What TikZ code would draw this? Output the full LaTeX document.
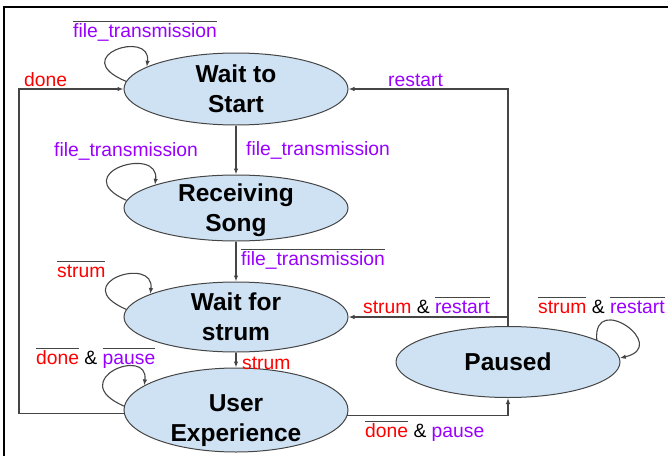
\documentclass[tikz,border=0pt]{standalone}
\usepackage{fontspec}
\setmainfont{Liberation Sans}
\usetikzlibrary{shapes.geometric,arrows.meta}
\definecolor{pur}{HTML}{9900FF}
\definecolor{rd}{HTML}{FF0000}
\definecolor{fillb}{HTML}{CFE2F3}
\definecolor{edgec}{HTML}{454545}
\newsavebox\ovbox
\newcommand\ovl[1]{\sbox\ovbox{#1}\rlap{\textcolor{edgec}{\rule[15pt]{\wd\ovbox}{1.2pt}}}\usebox\ovbox}
\newcommand\stt[2]{\raisebox{#1}[0pt][0pt]{\begin{tabular}{@{}c@{}}#2\end{tabular}}}
\tikzset{
  state/.style={ellipse, draw=edgec, fill=fillb, line width=1pt, inner sep=0pt,
    minimum width=224pt, font=\fontsize{24.5}{30}\selectfont\bfseries},
  lab/.style={anchor=base west, inner sep=0pt, font=\fontsize{19.3}{23}\selectfont},
  arr/.style={draw=edgec, line width=1.1pt, -{Latex[length=6pt,width=4.5pt]}},
  loopc/.style={arr}
}
\begin{document}
\begin{tikzpicture}[x=1pt,y=-1pt]
\useasboundingbox (0,0) rectangle (668,455);
\draw[line width=2pt] (4,456) -- (4,7) -- (669,7);

\node[state, minimum height=72pt] (ws) at (236,89) {\stt{-8.5pt}{Wait to\\Start}};
\node[state, minimum height=66pt] (rs) at (236,208) {\stt{-8.5pt}{Receiving\\Song}};
\node[state, minimum height=70pt] (wfs) at (236,317) {\stt{-8.5pt}{Wait for\\strum}};
\node[state, minimum height=84pt] (ue) at (236,410) {\stt{-17pt}{User\\Experience}};
\node[state, minimum height=71pt] (pa) at (508,362) {\stt{-8.5pt}{Paused}};

\coordinate (lft) at (19,0);

% straight transitions
\draw[arr] (ws.south) -- (rs.north);
\draw[arr] (rs.south) -- (wfs.north);
\draw[arr] (wfs.south) -- (ue.north);
\draw[arr] (ue.182.5) -- (ue.182.5 -| lft) -- (ws.west -| lft) -- (ws.west);
\draw[arr] (ue.357.5) -| (pa.south);
\draw[arr] (pa.north) |- (ws.east);
\draw[arr] (pa.north) |- (wfs.east);

% self loops
\draw[loopc] (ws.176) .. controls +(-60,-25) and +(5,-38) .. (ws.166);
\draw[loopc] (rs.176) .. controls +(-60,-27) and +(5,-40) .. (rs.164);
\draw[loopc] (wfs.176) .. controls +(-60,-26) and +(5,-39) .. (wfs.165);
\draw[loopc] (ue.178) .. controls +(-60,-26) and +(5,-40) .. (ue.165);
\draw[loopc] (pa.14) .. controls +(-4,-49) and +(51,-12) .. (pa.2.5);

% labels
\node[lab, text=pur] (l1) at (73,37) {\ovl{file\_transmission}};
\node[lab, text=pur] (l2) at (246,155) {file\_transmission};
\node[lab, text=pur] (l3) at (54,156) {file\_transmission};
\node[lab, text=pur] (l4) at (241,265) {\ovl{file\_transmission}};
\node[lab, text=rd] (l5) at (242,369) {strum};
\node[lab, text=rd] (l6) at (57,277) {\ovl{strum}};
\node[lab] (l7) at (36,364) {\ovl{\textcolor{rd}{done}} \& \ovl{\textcolor{pur}{pause}}};
\node[lab, text=rd] (l8) at (24,86) {done};
\node[lab, text=pur] (l9) at (388,86) {restart};
\node[lab] (l10) at (363,313) {\textcolor{rd}{strum} \& \ovl{\textcolor{pur}{restart}}};
\node[lab] (l11) at (538,313) {\ovl{\textcolor{rd}{strum}} \& \ovl{\textcolor{pur}{restart}}};
\node[lab] (l12) at (365,437) {\ovl{\textcolor{rd}{done}} \& \textcolor{pur}{pause}};
\end{tikzpicture}
\end{document}
